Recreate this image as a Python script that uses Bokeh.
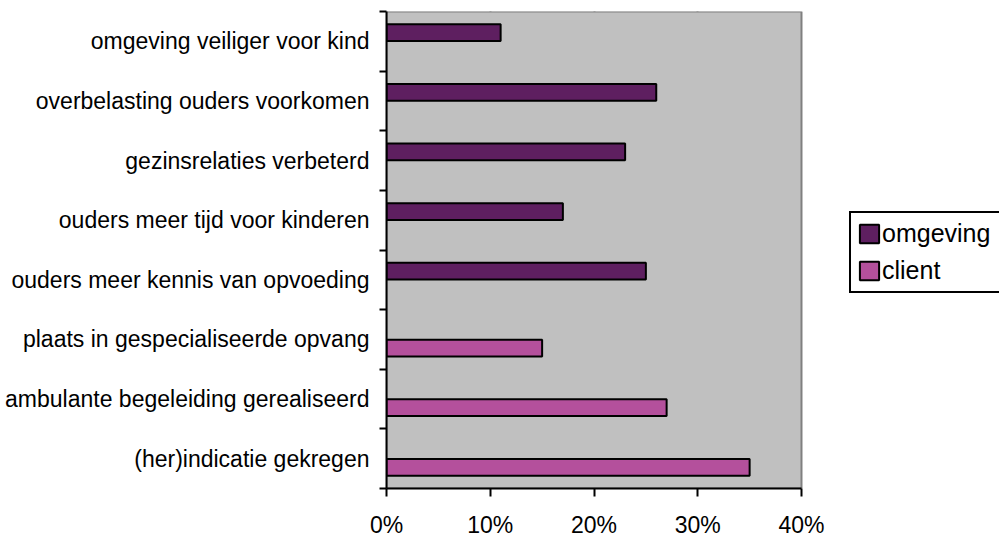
from bokeh.plotting import figure
from bokeh.models import (FixedTicker, NumeralTickFormatter, Legend, LegendItem,
                          ColumnDataSource, Range1d, BoxAnnotation)
from bokeh.embed import file_html
from bokeh.resources import INLINE

# categories listed from top to bottom
categories = [
    "omgeving veiliger voor kind",
    "overbelasting ouders voorkomen",
    "gezinsrelaties verbeterd",
    "ouders meer tijd voor kinderen",
    "ouders meer kennis van opvoeding",
    "plaats in gespecialiseerde opvang",
    "ambulante begeleiding gerealiseerd",
    "(her)indicatie gekregen",
]
series_names = ["omgeving", "client"]
omgeving = [0.11, 0.26, 0.23, 0.17, 0.25, None, None, None]
client = [None, None, None, None, None, 0.15, 0.27, 0.35]
x_ticks = [0.0, 0.1, 0.2, 0.3, 0.4]

FONT = "Liberation Sans"
FS = "23px"
n = len(categories)
centers = [n - i - 0.5 for i in range(n)]
offset = 0.145
bar_h = 0.28

# layout (pixels)
W, H = 999, 540
LEFT, TOP, BOTTOM = 386, 11, 49
AXIS_PX = 415  # pixel length of the 0..40% axis
frame_w = W - LEFT
x_max = x_ticks[-1]
x_end = x_max * frame_w / AXIS_PX

def src(vals, off):
    ys, xs = [], []
    for c, v in zip(centers, vals):
        if v is not None:
            ys.append(c + off)
            xs.append(v)
    return ColumnDataSource(dict(y=ys, right=xs))

p = figure(width=W, height=H, x_range=Range1d(0, x_end), y_range=Range1d(0, n),
           output_backend="svg", toolbar_location=None,
           min_border_left=LEFT, min_border_right=0, min_border_top=TOP,
           min_border_bottom=BOTTOM)
p.background_fill_color = "white"
p.border_fill_color = "white"
p.outline_line_color = None

plot_area = BoxAnnotation(left=0, right=x_max, bottom=0, top=n, level="underlay",
                          fill_color="#c0c0c0", fill_alpha=1,
                          line_color="#808080", line_width=2, line_alpha=1)
p.add_layout(plot_area)

r1 = p.hbar(y="y", right="right", left=0, height=bar_h, source=src(omgeving, offset),
            fill_color="#5e1f60", line_color="black", line_width=2)
r2 = p.hbar(y="y", right="right", left=0, height=bar_h, source=src(client, -offset),
            fill_color="#b4509c", line_color="black", line_width=2)

# x axis
xa = p.xaxis[0]
xa.bounds = (0, x_max)
xa.ticker = FixedTicker(ticks=x_ticks, minor_ticks=[])
xa.formatter = NumeralTickFormatter(format="0%")
xa.axis_line_width = 2
xa.axis_line_color = "black"
xa.major_tick_line_width = 2
xa.major_tick_line_color = "black"
xa.major_tick_in = 0
xa.major_tick_out = 8
xa.minor_tick_line_color = None
xa.major_label_text_font = FONT
xa.major_label_text_font_size = "23px"
xa.major_label_text_color = "black"
xa.major_label_standoff = 15

# y axis
ya = p.yaxis[0]
ya.ticker = FixedTicker(ticks=centers, minor_ticks=list(range(n + 1)))
ya.major_label_overrides = {c: lab for c, lab in zip(centers, categories)}
ya.major_tick_line_color = None
ya.minor_tick_line_color = "black"
ya.minor_tick_line_width = 2
ya.minor_tick_in = 0
ya.minor_tick_out = 7
ya.axis_line_width = 2
ya.axis_line_color = "black"
ya.major_label_text_font = FONT
ya.major_label_text_font_size = FS
ya.major_label_text_color = "black"
ya.major_label_standoff = 10

p.xgrid.ticker = FixedTicker(ticks=[0.1, 0.2, 0.3])
p.xgrid.grid_line_color = "black"
p.xgrid.grid_line_width = 2
p.ygrid.visible = False

legend = Legend(items=[LegendItem(label=series_names[0], renderers=[r1]),
                       LegendItem(label=series_names[1], renderers=[r2])],
                location=(463, 195))
legend.border_line_color = "black"
legend.border_line_width = 2
legend.border_line_alpha = 1
legend.background_fill_color = "white"
legend.background_fill_alpha = 1
legend.label_text_font = FONT
legend.label_text_font_size = "25px"
legend.label_text_color = "black"
legend.glyph_width = 24
legend.glyph_height = 23
legend.label_height = 20
legend.label_width = 125
legend.spacing = 8
legend.padding = 6
legend.margin = 0
legend.label_standoff = 1
p.add_layout(legend)

open("out.html", "w").write(file_html(p, INLINE))
